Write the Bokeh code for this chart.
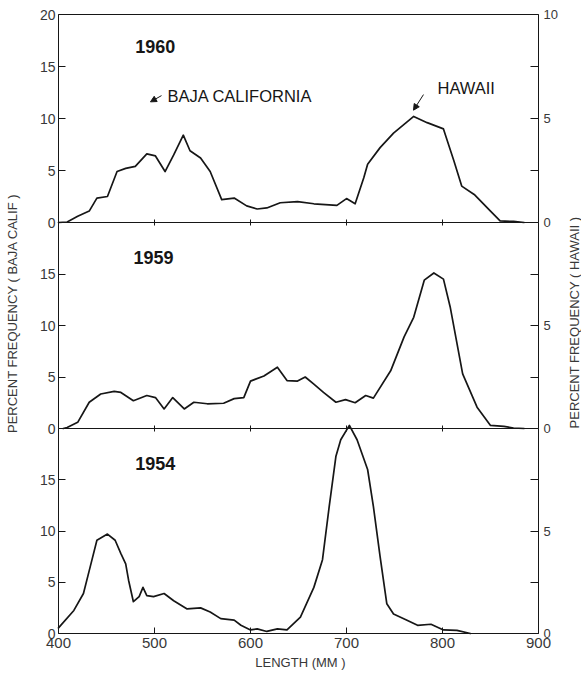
import math
from bokeh.plotting import figure
from bokeh.models import Range1d, LinearAxis, FixedTicker, Label, Arrow, NormalHead
from bokeh.embed import file_html
from bokeh.resources import INLINE

# ---------------- data ----------------
length_1960 = [400, 409, 420, 432, 440, 451, 461, 470, 480, 492, 501, 511, 520, 530, 537,
               548, 558, 570, 583, 596, 607, 617, 631, 649, 666, 690, 700, 709, 718, 722,
               735, 749, 770, 784, 801, 812, 820, 833, 850, 860, 874, 885]
pct_1960 = [0, 0.05, 0.6, 1.1, 2.35, 2.5, 4.9, 5.2, 5.4, 6.6, 6.4, 4.9, 6.5, 8.4, 6.9,
            6.2, 4.9, 2.2, 2.35, 1.6, 1.3, 1.4, 1.9, 2.0, 1.8, 1.65, 2.3, 1.8, 4.3, 5.6,
            7.2, 8.6, 10.2, 9.6, 9.0, 5.9, 3.5, 2.7, 1.1, 0.15, 0.1, 0]

length_1959 = [405, 409, 420, 432, 444, 458, 465, 478, 492, 501, 510, 519, 531, 541, 555,
               572, 583, 593, 600, 614, 628, 638, 649, 657, 666, 676, 689, 699, 709, 720,
               728, 746, 760, 770, 781, 791, 801, 808, 821, 836, 850, 864, 874, 885]
pct_1959 = [0, 0.1, 0.6, 2.55, 3.35, 3.6, 3.5, 2.7, 3.2, 3.0, 1.9, 3.0, 1.9, 2.55, 2.4,
            2.45, 2.9, 3.0, 4.6, 5.1, 5.95, 4.65, 4.6, 5.0, 4.3, 3.5, 2.55, 2.8, 2.5, 3.2,
            2.95, 5.6, 8.9, 10.8, 14.4, 15.1, 14.5, 11.8, 5.3, 2.07, 0.3, 0.2, 0.05, 0]

length_1954 = [400, 416, 426, 433, 440, 451, 459, 465, 470, 473, 478, 484, 488, 492, 499,
               510, 520, 534, 548, 558, 569, 583, 590, 600, 607, 617, 628, 638, 652, 666,
               675, 682, 689, 694, 703, 711, 722, 728, 735, 742, 749, 763, 774, 788, 801,
               815, 829]
pct_1954 = [0.55, 2.25, 3.9, 6.5, 9.1, 9.7, 9.1, 7.8, 6.8, 5.2, 3.1, 3.6, 4.5, 3.7, 3.6,
            3.9, 3.2, 2.4, 2.5, 2.1, 1.45, 1.3, 0.8, 0.35, 0.45, 0.2, 0.45, 0.35, 1.6, 4.5,
            7.2, 12.4, 17.3, 18.9, 20.3, 18.9, 16.0, 12.4, 7.5, 2.9, 1.9, 1.3, 0.8, 0.9, 0.35,
            0.3, 0]

years = ["1960", "1959", "1954"]
x_ticks = [400, 500, 600, 700, 800, 900]
inner_x_ticks = [500, 600, 700, 800]
left_ticks = {"1960": [0, 5, 10, 15, 20], "1959": [0, 5, 10, 15], "1954": [0, 5, 10, 15]}
right_ticks = {"1960": [0, 5, 10], "1959": [0, 5], "1954": [0, 5]}
right_minor = [2.5, 7.5]

left_title = "PERCENT FREQUENCY ( BAJA CALIF )"
right_title = "PERCENT FREQUENCY ( HAWAII )"
x_title = "LENGTH (MM )"

# ---------------- layout ----------------
FONT = "Liberation Sans"
INK = "#161616"
TXT = "#383838"
W, HC = 581, 672          # canvas == frame (no borders)
# x: 400 mm at px 58, 900 mm at px 538
PX_PER_MM = 480 / 500
x_range = Range1d(400 - 58 / PX_PER_MM, 900 + (W - 538) / PX_PER_MM)
# (zero px, top px) of each panel measured from canvas bottom
panel_px = {"1960": (450, 658), "1959": (244, 450), "1954": (39, 244)}


def panel_range(z, t, top):
    u = top / (t - z)
    return Range1d(start=-z * u, end=(HC - z) * u)


ranges = {}
for yr in years:
    z, t = panel_px[yr]
    ranges["L" + yr] = panel_range(z, t, 20)
    ranges["R" + yr] = panel_range(z, t, 10)

p = figure(width=W, height=HC, x_range=x_range, y_range=ranges["L1954"],
           output_backend="svg", toolbar_location=None, title=None,
           y_axis_location=None, x_axis_location=None,
           min_border=0, min_border_left=0, min_border_right=0,
           min_border_top=0, min_border_bottom=0)
p.extra_y_ranges = {k: v for k, v in ranges.items() if k != "L1954"}
name = {k: ("default" if k == "L1954" else k) for k in ranges}

p.grid.visible = False
p.outline_line_color = None
p.background_fill_color = "white"
p.border_fill_color = "white"


def style_labels(ax, size):
    ax.major_label_text_font = FONT
    ax.major_label_text_font_size = size
    ax.major_label_text_color = TXT


for yr in years:
    la = LinearAxis(y_range_name=name["L" + yr], fixed_location=400, bounds=(0, 20),
                    ticker=FixedTicker(ticks=left_ticks[yr], minor_ticks=[]),
                    axis_line_color=INK, axis_line_width=1, major_tick_line_color=INK,
                    major_tick_in=7, major_tick_out=0, minor_tick_line_color=None,
                    major_label_standoff=3)
    style_labels(la, "14px")
    p.add_layout(la, "left")
    ra = LinearAxis(y_range_name=name["R" + yr], fixed_location=900, bounds=(0, 10),
                    ticker=FixedTicker(ticks=right_ticks[yr], minor_ticks=right_minor),
                    axis_line_color=INK, axis_line_width=1, major_tick_line_color=INK,
                    major_tick_in=8, major_tick_out=0,
                    minor_tick_line_color=INK, minor_tick_in=8, minor_tick_out=0,
                    major_label_standoff=5)
    style_labels(ra, "13px")
    p.add_layout(ra, "right")
    if yr != "1954":
        ba = LinearAxis(y_range_name=name["L" + yr], fixed_location=0, bounds=(400, 900),
                        ticker=FixedTicker(ticks=inner_x_ticks, minor_ticks=[]),
                        axis_line_color=INK, axis_line_width=1,
                        major_tick_line_color=INK, major_tick_in=3, major_tick_out=3,
                        minor_tick_line_color=None, major_label_text_color=None)
        p.add_layout(ba, "below")

# bottom length axis
xa = LinearAxis(y_range_name="default", fixed_location=0, bounds=(400, 900),
                ticker=FixedTicker(ticks=x_ticks, minor_ticks=[]),
                axis_line_color=INK, axis_line_width=1, major_tick_line_color=INK,
                major_tick_in=6, major_tick_out=0, minor_tick_line_color=None,
                major_label_standoff=4)
style_labels(xa, "15px")
p.add_layout(xa, "below")
# top border
ta = LinearAxis(y_range_name="L1960", fixed_location=20, bounds=(400, 900),
                ticker=FixedTicker(ticks=[], minor_ticks=[]),
                axis_line_color=INK, axis_line_width=1, major_tick_line_color=None,
                minor_tick_line_color=None, major_label_text_color=None)
p.add_layout(ta, "above")

# curves
series = {"1960": (length_1960, pct_1960), "1959": (length_1959, pct_1959),
          "1954": (length_1954, pct_1954)}
for yr in years:
    xs, ys = series[yr]
    p.line(xs, ys, y_range_name=name["L" + yr], line_color=INK, line_width=1.7,
           line_join="round", line_cap="round")

# year labels
year_pos = {"1960": (480, 16.9), "1959": (478, 16.6), "1954": (480, 16.6)}
for yr in years:
    x, y = year_pos[yr]
    p.add_layout(Label(x=x, y=y, y_range_name=name["L" + yr], text=yr,
                       text_font=FONT, text_font_size="18px", text_font_style="bold",
                       text_color=INK, text_align="left", text_baseline="middle"))

# series annotations (1960 panel)
p.add_layout(Label(x=513.5, y=12.2, y_range_name="L1960", text="BAJA CALIFORNIA",
                   text_font=FONT, text_font_size="16.5px", text_color=INK,
                   text_align="left", text_baseline="middle"))
p.add_layout(Label(x=794.8, y=12.9, y_range_name="L1960", text="HAWAII",
                   text_font=FONT, text_font_size="16.5px", text_color=INK,
                   text_align="left", text_baseline="middle"))
p.add_layout(Arrow(x_start=507.3, y_start=12.2, x_end=495.8, y_end=11.6,
                   y_range_name="L1960", line_color=INK, line_width=1,
                   end=NormalHead(size=6, fill_color=INK, line_color=INK)))
p.add_layout(Arrow(x_start=780.2, y_start=12.3, x_end=769.8, y_end=10.8,
                   y_range_name="L1960", line_color=INK, line_width=1,
                   end=NormalHead(size=6, fill_color=INK, line_color=INK)))

# axis titles
p.add_layout(Label(x=352, y=11.2, y_range_name="L1959", text=left_title, angle=math.pi / 2,
                   text_font=FONT, text_font_size="13px", text_color=TXT,
                   text_align="center", text_baseline="middle"))
p.add_layout(Label(x=938, y=10.3, y_range_name="L1959", text=right_title, angle=math.pi / 2,
                   text_font=FONT, text_font_size="13px", text_color=TXT,
                   text_align="center", text_baseline="middle"))
p.add_layout(Label(x=652, y=-2.8, text=x_title,
                   text_font=FONT, text_font_size="13px", text_color=TXT,
                   text_align="center", text_baseline="middle"))

open("out.html", "w").write(file_html(p, INLINE))
